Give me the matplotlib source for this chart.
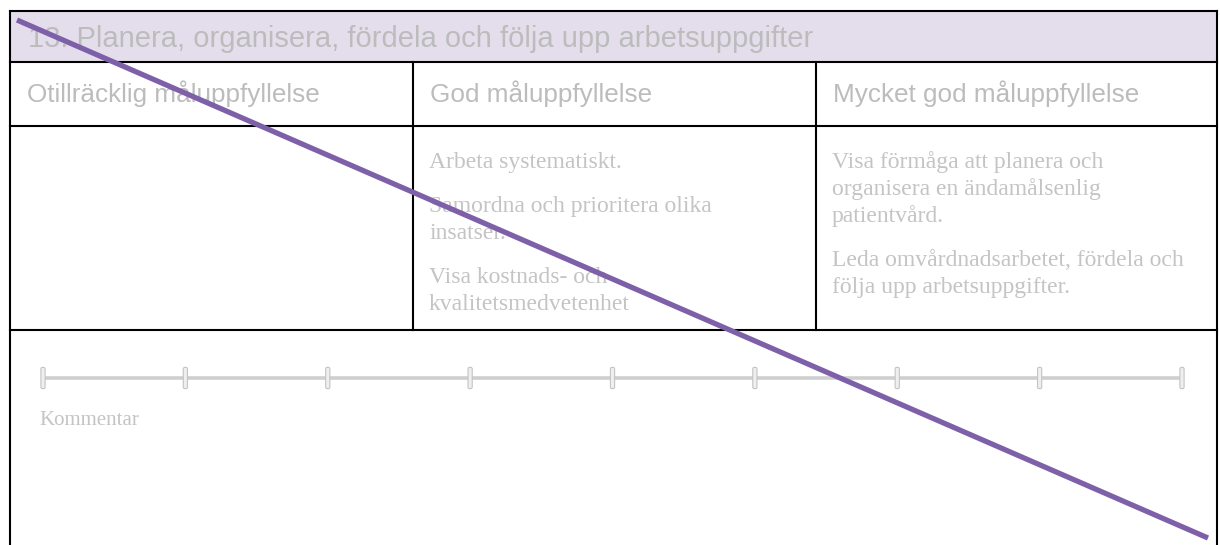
import matplotlib
matplotlib.use("Agg")
import matplotlib.pyplot as plt
import numpy as np
from matplotlib.patches import Rectangle, FancyBboxPatch

# text content of the form
title = "13. Planera, organisera, fördela och följa upp arbetsuppgifter"
col_headers = ["Otillräcklig måluppfyllelse", "God måluppfyllelse", "Mycket god måluppfyllelse"]
col_texts = [
    [],
    [["Arbeta systematiskt."],
     ["Samordna och prioritera olika", "insatser."],
     ["Visa kostnads- och", "kvalitetsmedvetenhet"]],
    [["Visa förmåga att planera och", "organisera en ändamålsenlig", "patientvård."],
     ["Leda omvårdnadsarbetet, fördela och", "följa upp arbetsuppgifter."]],
]
slider_steps = 9
comment_label = "Kommentar"

W, H = 1220, 545
fig = plt.figure(figsize=(W / 100, H / 100), dpi=100)
ax = fig.add_axes([0, 0, 1, 1])
ax.set_xlim(0, W)
ax.set_ylim(H, 0)
ax.axis("off")

# layout (pixels)
left, right, top = 10, 1217, 11
y_head, y_cols, y_body = 62, 126, 330
col_x = [left, 413, 816, right]
border = dict(color="black", lw=1.5, solid_capstyle="projecting")

ax.add_patch(Rectangle((left, top), right - left, y_head - top, facecolor="#e4deec", edgecolor="none"))
ax.plot([left, right], [top, top], **border)
ax.plot([left, left], [top, H + 5], **border)
ax.plot([right, right], [top, H + 5], **border)
for yy in (y_head, y_cols, y_body):
    ax.plot([left, right], [yy, yy], **border)
for xx in col_x[1:3]:
    ax.plot([xx, xx], [y_head, y_body], **border)

ax.text(28, 47, title, fontsize=21, family="Liberation Sans", color="#bcbcbc", va="baseline")
for i, h in enumerate(col_headers):
    ax.text(col_x[i] + 17, 102, h, fontsize=18.8, family="Liberation Sans", color="#bcbcbc", va="baseline")

# criteria text in serif
line_h, para_gap = 27, 17
for i, paras in enumerate(col_texts):
    y = 168
    for p in paras:
        for line in p:
            ax.text(col_x[i] + 16, y, line, fontsize=17, family="Liberation Serif",
                    color="#c4c4c4", va="baseline")
            y += line_h
        y += para_gap

# slider
sx = np.linspace(43, 1182, slider_steps)
ax.plot([sx[0], sx[-1]], [378, 378], color="#cfcfcf", lw=2.6, solid_capstyle="butt", zorder=2)
for x in sx:
    ax.add_patch(FancyBboxPatch((x - 1.5, 368), 3, 20, boxstyle="round,pad=0.6,rounding_size=1.5",
                                facecolor="#efefef", edgecolor="#c4c4c4", lw=0.8, zorder=3))

ax.text(39, 425, comment_label, fontsize=15, family="Liberation Serif", color="#c4c4c4", va="baseline")

# strike-through diagonal
ax.plot([17, 1208], [20, 538], color="#7d60a8", lw=3.8, solid_capstyle="butt", zorder=5)

fig.savefig("out.png", dpi=100)
